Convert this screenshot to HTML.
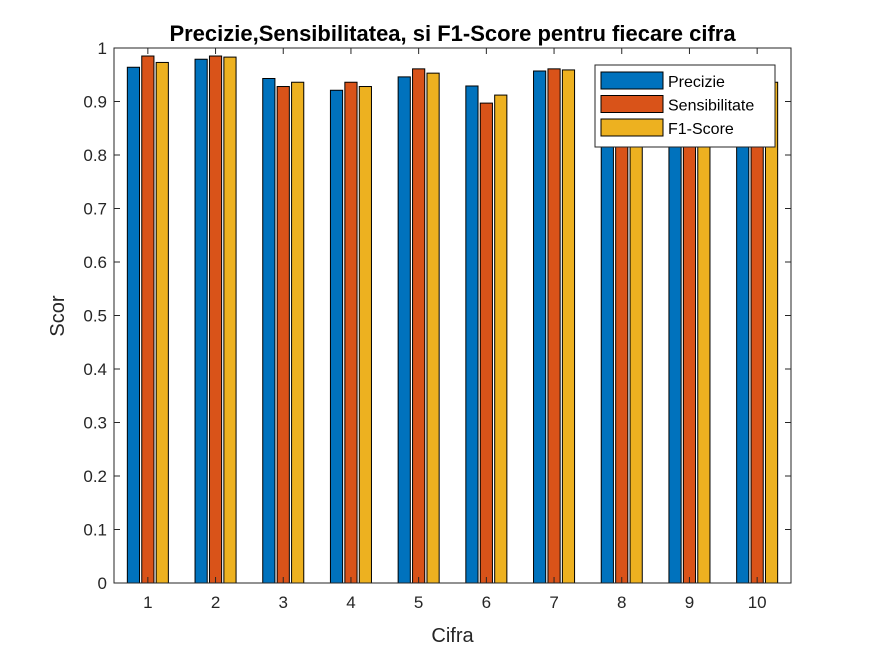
<!DOCTYPE html>
<html><head><meta charset="utf-8"><style>
body{margin:0;background:#fff;}
svg text{font-family:"Liberation Sans",Arial,sans-serif;fill:#262626;}
</style></head><body>
<svg id="chart" width="875" height="656" xmlns="http://www.w3.org/2000/svg">
<rect width="875" height="656" fill="#fff"/>
<g id="plot"></g>
</svg>
<script>
const categories = ["1","2","3","4","5","6","7","8","9","10"];
const precizie = [0.964,0.979,0.943,0.921,0.946,0.929,0.957,0.930,0.920,0.940];
const sensibilitate = [0.985,0.985,0.928,0.936,0.961,0.897,0.961,0.940,0.930,0.930];
const f1score = [0.973,0.983,0.936,0.928,0.953,0.912,0.959,0.935,0.925,0.936];
const yTicks = [0,0.1,0.2,0.3,0.4,0.5,0.6,0.7,0.8,0.9,1];
const yTickLabels = ["0","0.1","0.2","0.3","0.4","0.5","0.6","0.7","0.8","0.9","1"];

const L=114,R=791,T=48,B=583;
const NS="http://www.w3.org/2000/svg";
const g=document.getElementById('plot');
function xS(v){return L+(v-0.5)/categories.length*(R-L);}
function yS(v){return B-v*(B-T);}
function mk(tag,attrs,parent){const e=document.createElementNS(NS,tag);for(const k in attrs)e.setAttribute(k,attrs[k]);(parent||g).appendChild(e);return e;}

mk('rect',{x:L,y:T,width:R-L,height:B-T,fill:'#fff'});
const series=[{d:precizie,c:'#0072BD',n:'Precizie'},{d:sensibilitate,c:'#D95319',n:'Sensibilitate'},{d:f1score,c:'#EDB120',n:'F1-Score'}];
const off=0.213,bw=0.18;
series.forEach((s,si)=>{
  s.d.forEach((v,i)=>{
    const cx=i+1+(si-1)*off;
    const x0=xS(cx-bw/2),x1=xS(cx+bw/2);
    const r=mk('rect',{x:x0,y:yS(v),width:x1-x0,height:yS(0)-yS(v),fill:s.c,stroke:'#000','stroke-width':1});
    
    
  });
});
const box=mk('rect',{x:L,y:T,width:R-L,height:B-T,fill:'none',stroke:'#262626','stroke-width':1});


yTicks.forEach((v,i)=>{
  const y=yS(v);
  mk('line',{x1:L,x2:L+6,y1:y,y2:y,stroke:'#262626'});
  mk('line',{x1:R,x2:R-6,y1:y,y2:y,stroke:'#262626'});
  const t=mk('text',{x:L-7,y:y+6,'text-anchor':'end','font-size':17});
  t.textContent=yTickLabels[i];
  
  
});
categories.forEach((c,i)=>{
  const x=xS(i+1);
  mk('line',{x1:x,x2:x,y1:B,y2:B-6,stroke:'#262626'});
  mk('line',{x1:x,x2:x,y1:T,y2:T+6,stroke:'#262626'});
  const t=mk('text',{x:x,y:B+25,'text-anchor':'middle','font-size':17});
  t.textContent=c;
  
  
});
let t=mk('text',{x:(L+R)/2,y:642,'text-anchor':'middle','font-size':20});
t.textContent='Cifra';


t=mk('text',{x:64,y:316,'text-anchor':'middle','font-size':20,transform:'rotate(-90 64 316)'});
t.textContent='Scor';


t=mk('text',{x:(L+R)/2,y:41,'text-anchor':'middle','font-size':22,'font-weight':'bold','style':'fill:#000'});
t.textContent='Precizie,Sensibilitatea, si F1-Score pentru fiecare cifra';


const lg=mk('g',{});


mk('rect',{x:595,y:65,width:180,height:82,fill:'#fff',stroke:'#262626'},lg);
series.forEach((s,si)=>{
  const y=72+si*23.5;
  const e=mk('g',{},lg);
  
  
  mk('rect',{x:601,y:y,width:62,height:17,fill:s.c,stroke:'#000'},e);
  const tt=mk('text',{x:668,y:y+15,'font-size':16,'style':'fill:#000'},e);
  tt.textContent=s.n;
});
</script>
</body></html>
